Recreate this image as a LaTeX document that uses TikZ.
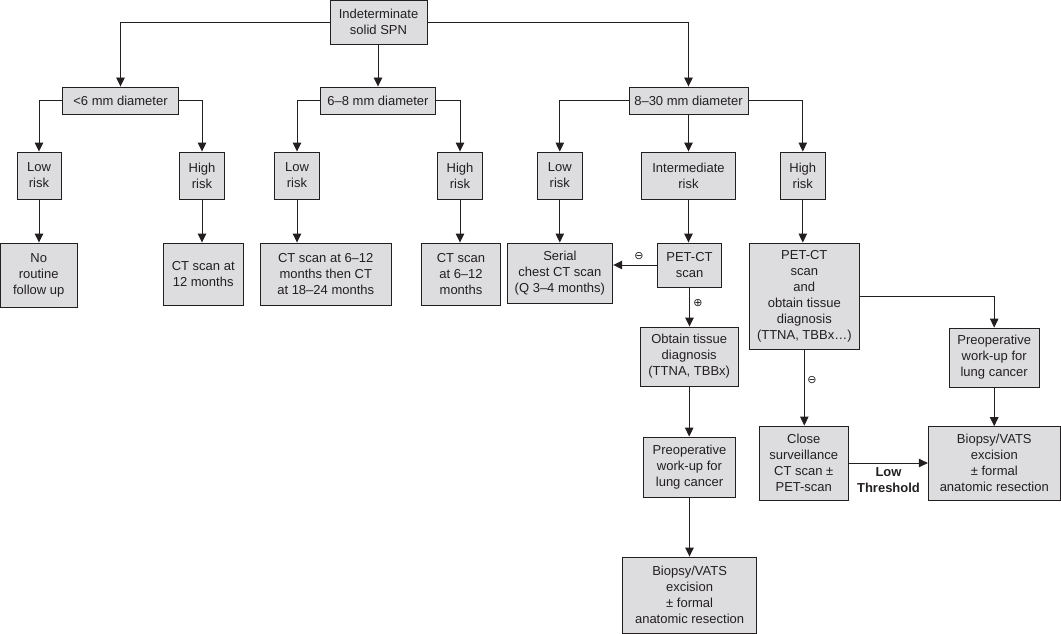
\documentclass[tikz,border=0pt]{standalone}
\usepackage{fontspec}
\setmainfont{Liberation Sans}
\newfontfamily\symf{DejaVu Sans}
\usetikzlibrary{arrows.meta}
\definecolor{boxfill}{RGB}{221,221,223}
\definecolor{ink}{RGB}{35,31,32}
\tikzset{
  box/.style={draw=ink, fill=boxfill, line width=0.9pt, inner sep=0pt, align=center,
    text=ink, font=\fontsize{13}{16}\selectfont},
  conn/.style={draw=ink, line width=0.9pt},
  arr/.style={conn, -{Triangle[length=9pt,width=8.5pt]}},
  sign/.style={text=ink, inner sep=0pt, font=\symf\fontsize{11}{11}\selectfont},
  thr/.style={text=ink, align=center, inner sep=0pt, font=\bfseries\fontsize{13}{16}\selectfont}
}
\begin{document}
\begin{tikzpicture}[x=1pt,y=-1pt]
\useasboundingbox (0,0) rectangle (1061,634);
% row 0
\node[box, minimum width=97pt, minimum height=44pt] (root) at (378.5,22) {Indeterminate\\solid SPN};
% row 1
\node[box, minimum width=116.5pt, minimum height=27pt] (lt6) at (120.5,100.5) {<6 mm diameter};
\node[box, minimum width=114.5pt, minimum height=27pt] (d68) at (378,100.5) {6–8 mm diameter};
\node[box, minimum width=119pt, minimum height=27pt] (d830) at (688.5,100.5) {8–30 mm diameter};
% row 2
\node[box, minimum width=44pt, minimum height=47pt] (low1) at (39,175.5) {Low\\risk};
\node[box, minimum width=45pt, minimum height=47pt] (high1) at (202,175.5) {High\\risk};
\node[box, minimum width=45pt, minimum height=47pt] (low2) at (297,175.5) {Low\\risk};
\node[box, minimum width=45pt, minimum height=47pt] (high2) at (460,175.5) {High\\risk};
\node[box, minimum width=45.6pt, minimum height=47pt] (low3) at (559.8,175.5) {Low\\risk};
\node[box, minimum width=94.4pt, minimum height=47pt] (inter) at (688.5,175.5) {Intermediate\\risk};
\node[box, minimum width=45.6pt, minimum height=47pt] (high3) at (802.8,175.5) {High\\risk};
% row 3
\node[box, minimum width=77.4pt, minimum height=64pt] (norout) at (38.7,275) {No\\routine\\follow up};
\node[box, minimum width=80.4pt, minimum height=62pt] (ct12) at (203.2,274) {CT scan at\\12 months};
\node[box, minimum width=131.5pt, minimum height=62pt] (ctthen) at (325.75,274) {CT scan at 6–12\\months then CT\\at 18–24 months};
\node[box, minimum width=78.7pt, minimum height=62pt] (ct612) at (461,274) {CT scan\\at 6–12\\months};
\node[box, minimum width=105.7pt, minimum height=60pt] (serial) at (559.9,273) {Serial\\chest CT scan\\(Q 3–4 months)};
\node[box, minimum width=64pt, minimum height=44pt] (petct) at (689.5,265) {PET-CT\\scan};
\node[box, minimum width=110pt, minimum height=106pt] (petbig) at (804.3,296) {PET-CT\\scan\\and\\obtain tissue\\diagnosis\\(TTNA, TBBx…)};
% row 4
\node[box, minimum width=98.3pt, minimum height=59pt] (obtain) at (689.2,356.5) {Obtain tissue\\diagnosis\\(TTNA, TBBx)};
\node[box, minimum width=89.6pt, minimum height=59pt] (preopR) at (994.2,357.5) {Preoperative\\work-up for\\lung cancer};
% row 5
\node[box, minimum width=88.7pt, minimum height=74pt] (close) at (803.75,463) {Close\\surveillance\\CT scan ±\\PET-scan};
\node[box, minimum width=132pt, minimum height=73.3pt] (biopR) at (994.3,463.3) {Biopsy/VATS\\excision\\± formal\\anatomic resection};
\node[box, minimum width=92pt, minimum height=60pt] (preopM) at (689.5,467) {Preoperative\\work-up for\\lung cancer};
% row 6
\node[box, minimum width=133.8pt, minimum height=76pt] (biopM) at (689.6,595) {Biopsy/VATS\\excision\\± formal\\anatomic resection};
% connectors from root
\draw[arr] (root.west) -| (lt6.north);
\draw[arr] (root.south) -- (root.south -| d68.north) -- (d68.north);
\draw[arr] (root.east) -| (d830.north);
% <6 mm
\draw[arr] (lt6.west) -| (low1.north);
\draw[arr] (lt6.east) -| (high1.north);
\draw[arr] (low1.south) -- (low1.south |- norout.north);
\draw[arr] (high1.south) -- (high1.south |- ct12.north);
% 6-8 mm
\draw[arr] (d68.west) -| (low2.north);
\draw[arr] (d68.east) -| (high2.north);
\draw[arr] (low2.south) -- (low2.south |- ctthen.north);
\draw[arr] (high2.south) -- (high2.south |- ct612.north);
% 8-30 mm
\draw[arr] (d830.west) -| (low3.north);
\draw[arr] (d830.east) -| (high3.north);
\draw[arr] (d830.south) -- (d830.south |- inter.north);
\draw[arr] (low3.south) -- (low3.south |- serial.north);
\draw[arr] (inter.south) -- (inter.south |- petct.north);
\draw[arr] (high3.south) -- (high3.south |- petbig.north);
\draw[arr] (petct.west) -- (petct.west -| serial.east);
\draw[arr] (petct.south) -- (petct.south |- obtain.north);
\draw[arr] (obtain.south) -- (obtain.south |- preopM.north);
\draw[arr] (preopM.south) -- (preopM.south |- biopM.north);
\draw[arr] (petbig.east) -| (preopR.north);
\draw[arr] (petbig.south) -- (petbig.south |- close.north);
\draw[arr] (preopR.south) -- (preopR.south |- biopR.north);
\draw[arr] (close.east) -- (close.east -| biopR.west);
% labels
\node[sign] (m1) at (639,256) {⊖};
\node[sign] (p1) at (698,303) {⊕};
\node[sign] (m2) at (812,380) {⊖};
\node[thr] (lowthr) at (888.5,480) {Low\\Threshold};
\end{tikzpicture}
\end{document}
